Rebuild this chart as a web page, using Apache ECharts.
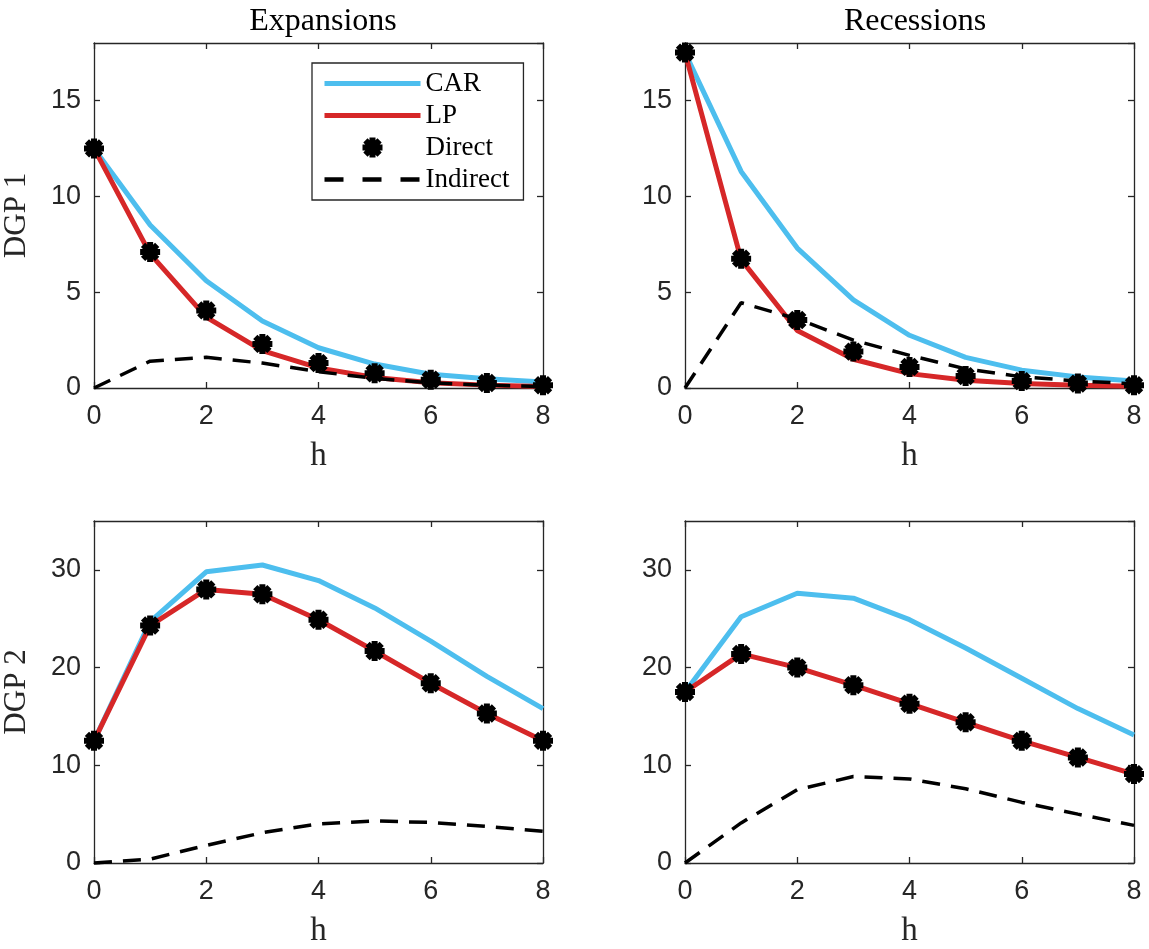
<!DOCTYPE html>
<html>
<head>
<meta charset="utf-8">
<script src="https://cdn.jsdelivr.net/npm/echarts@6/dist/echarts.min.js"></script>
<style>
html,body{margin:0;padding:0;background:#fff;}
#c{width:1149px;height:949px;}
</style>
</head>
<body>
<div id="c"></div>
<script>
// ---- data ----
const horizons = [0, 1, 2, 3, 4, 5, 6, 7, 8];
const colTitles = ['Expansions', 'Recessions'];
const rowTitles = ['DGP 1', 'DGP 2'];
const legendNames = ['CAR', 'LP', 'Direct', 'Indirect'];

// DGP 1, Expansions
const car_d1_exp = [12.5, 8.5, 5.6, 3.5, 2.1, 1.25, 0.72, 0.48, 0.31];
const lp_d1_exp = [12.5, 7.0, 3.7, 1.95, 1.05, 0.55, 0.27, 0.15, 0.08];
const direct_d1_exp = [12.5, 7.1, 4.05, 2.3, 1.3, 0.77, 0.43, 0.26, 0.14];
const indirect_d1_exp = [0, 1.4, 1.6, 1.3, 0.85, 0.5, 0.27, 0.15, 0.08];

// DGP 1, Recessions
const car_d1_rec = [17.5, 11.3, 7.3, 4.6, 2.75, 1.6, 0.93, 0.58, 0.37];
const lp_d1_rec = [17.5, 6.7, 3.0, 1.5, 0.75, 0.4, 0.23, 0.14, 0.09];
const direct_d1_rec = [17.5, 6.75, 3.55, 1.9, 1.1, 0.62, 0.36, 0.23, 0.14];
const indirect_d1_rec = [0, 4.45, 3.6, 2.5, 1.7, 1.0, 0.58, 0.37, 0.22];

// DGP 2, Expansions
const car_d2_exp = [12.5, 24.7, 29.8, 30.5, 28.9, 26.1, 22.7, 19.1, 15.8];
const lp_d2_exp = [12.5, 24.3, 28.0, 27.5, 24.9, 21.7, 18.4, 15.3, 12.5];
const direct_d2_exp = [12.5, 24.3, 28.0, 27.5, 24.9, 21.7, 18.4, 15.3, 12.5];
const indirect_d2_exp = [0, 0.4, 1.8, 3.1, 4.0, 4.3, 4.15, 3.75, 3.25];

// DGP 2, Recessions
const car_d2_rec = [17.5, 25.2, 27.6, 27.1, 24.9, 22.0, 18.9, 15.8, 13.1];
const lp_d2_rec = [17.5, 21.4, 20.0, 18.2, 16.3, 14.4, 12.5, 10.8, 9.1];
const direct_d2_rec = [17.5, 21.4, 20.0, 18.2, 16.3, 14.4, 12.5, 10.8, 9.1];
const indirect_d2_rec = [0, 4.1, 7.5, 8.85, 8.6, 7.6, 6.2, 5.0, 3.85];

const yMax = [18, 35];
const yInterval = [5, 10];

// ---- styles ----
const AX = '#262626';
const CAR_C = '#4DBEEE';
const LP_C = '#D62728';
const serif = 'Liberation Serif';
const sans = 'Liberation Sans';

// asterisk-like marker path
function starPath() {
  const w = 0.3, rIn = w / Math.sin(Math.PI / 8), S = 50;
  const pts = [];
  for (let k = 0; k < 8; k++) {
    const t = k * Math.PI / 4;
    const c = Math.cos(t), s = Math.sin(t);
    pts.push([c + s * w, s - c * w]);
    pts.push([c - s * w, s + c * w]);
    const tb = t + Math.PI / 8;
    pts.push([rIn * Math.cos(tb), rIn * Math.sin(tb)]);
  }
  return 'path://M' + pts.map(p => ((p[0] + 1) * S).toFixed(2) + ' ' + ((p[1] + 1) * S).toFixed(2)).join(' L') + ' Z';
}
const STAR = starPath();

const grids = [
  {left: 93, top: 43, width: 450, height: 345},
  {left: 685, top: 43, width: 449, height: 345},
  {left: 93, top: 521, width: 450, height: 344},
  {left: 685, top: 521, width: 449, height: 344}
];
const panels = [
  [car_d1_exp, lp_d1_exp, direct_d1_exp, indirect_d1_exp],
  [car_d1_rec, lp_d1_rec, direct_d1_rec, indirect_d1_rec],
  [car_d2_exp, lp_d2_exp, direct_d2_exp, indirect_d2_exp],
  [car_d2_rec, lp_d2_rec, direct_d2_rec, indirect_d2_rec]
];

const xAxis = [], yAxis = [], series = [];
grids.forEach((g, i) => {
  const row = Math.floor(i / 2), col = i % 2;
  const common = {
    axisLine: {show: true, onZero: false, lineStyle: {color: AX, width: 1.3}},
    axisTick: {show: true, inside: true, length: 6, lineStyle: {color: AX, width: 1.3}},
    splitLine: {show: false}
  };
  xAxis.push(Object.assign({}, common, {
    type: 'value', gridIndex: i, min: 0, max: 8, interval: 2, position: 'bottom',
    name: 'h', nameLocation: 'middle', nameGap: 52,
    nameTextStyle: {fontFamily: serif, fontSize: 33, color: AX},
    axisLabel: {show: true, margin: 15, color: AX, fontFamily: sans, fontSize: 27}
  }));
  xAxis.push(Object.assign({}, common, {
    type: 'value', gridIndex: i, min: 0, max: 8, interval: 2, position: 'top',
    axisLabel: {show: false}
  }));
  const yc = {
    type: 'value', gridIndex: i, min: 0, max: yMax[row], interval: yInterval[row]
  };
  yAxis.push(Object.assign({}, common, yc, {
    position: 'left',
    name: col === 0 ? rowTitles[row] : '', nameLocation: 'middle', nameGap: 62, nameRotate: 90,
    nameTextStyle: {fontFamily: serif, fontSize: 31, color: AX},
    axisLabel: {show: true, margin: 13, color: AX, fontFamily: sans, fontSize: 27, showMaxLabel: false}
  }));
  yAxis.push(Object.assign({}, common, yc, {
    position: 'right', axisLabel: {show: false}
  }));
  const p = panels[i];
  const toPts = arr => horizons.map((h, k) => [h, arr[k]]);
  series.push({
    name: legendNames[0], type: 'line', xAxisIndex: 2 * i, yAxisIndex: 2 * i,
    data: toPts(p[0]), symbol: 'none', clip: false,
    lineStyle: {color: CAR_C, width: 5}, itemStyle: {color: CAR_C}, z: 2
  });
  series.push({
    name: legendNames[1], type: 'line', xAxisIndex: 2 * i, yAxisIndex: 2 * i,
    data: toPts(p[1]), symbol: 'none', clip: false,
    lineStyle: {color: LP_C, width: 5}, itemStyle: {color: LP_C}, z: 3
  });
  series.push({
    name: legendNames[3], type: 'line', xAxisIndex: 2 * i, yAxisIndex: 2 * i,
    data: toPts(p[3]), symbol: 'none', clip: false,
    lineStyle: {color: '#000', width: 3.5, type: [18, 11]}, itemStyle: {color: '#000'}, z: 4
  });
  series.push({
    name: legendNames[2], type: 'scatter', xAxisIndex: 2 * i, yAxisIndex: 2 * i,
    data: toPts(p[2]), symbol: STAR, symbolSize: 20, clip: false,
    itemStyle: {color: '#000', opacity: 1}, z: 5
  });
});

const option = {
  animation: false,
  backgroundColor: '#fff',
  title: [
    {text: colTitles[0], left: 318, top: 1, textAlign: 'center',
     textStyle: {fontFamily: serif, fontSize: 32, fontWeight: 'normal', color: '#000'}},
    {text: colTitles[1], left: 910, top: 1, textAlign: 'center',
     textStyle: {fontFamily: serif, fontSize: 32, fontWeight: 'normal', color: '#000'}}
  ],
  grid: grids.map(g => Object.assign({containLabel: false}, g)),
  xAxis: xAxis,
  yAxis: yAxis,
  legend: {
    orient: 'vertical', left: 312, top: 63,
    data: [
      {name: legendNames[0], itemStyle: {opacity: 0}, lineStyle: {width: 5, color: CAR_C}},
      {name: legendNames[1], itemStyle: {opacity: 0}, lineStyle: {width: 5, color: LP_C}},
      {name: legendNames[2], itemStyle: {color: '#000', opacity: 1}},
      {name: legendNames[3], itemStyle: {opacity: 0}, lineStyle: {width: 4.5, color: '#000', type: [19, 19]}}
    ],
    itemWidth: 96, itemHeight: 20, itemGap: 5,
    padding: [7, 14, 7, 10],
    borderColor: AX, borderWidth: 1.3, backgroundColor: '#fff',
    selectedMode: false,
    textStyle: {fontFamily: serif, fontSize: 27, color: '#000'}
  },
  series: series
};

const chart = echarts.init(document.getElementById('c'), null, {renderer: 'canvas'});
chart.setOption(option);
</script>
</body>
</html>
